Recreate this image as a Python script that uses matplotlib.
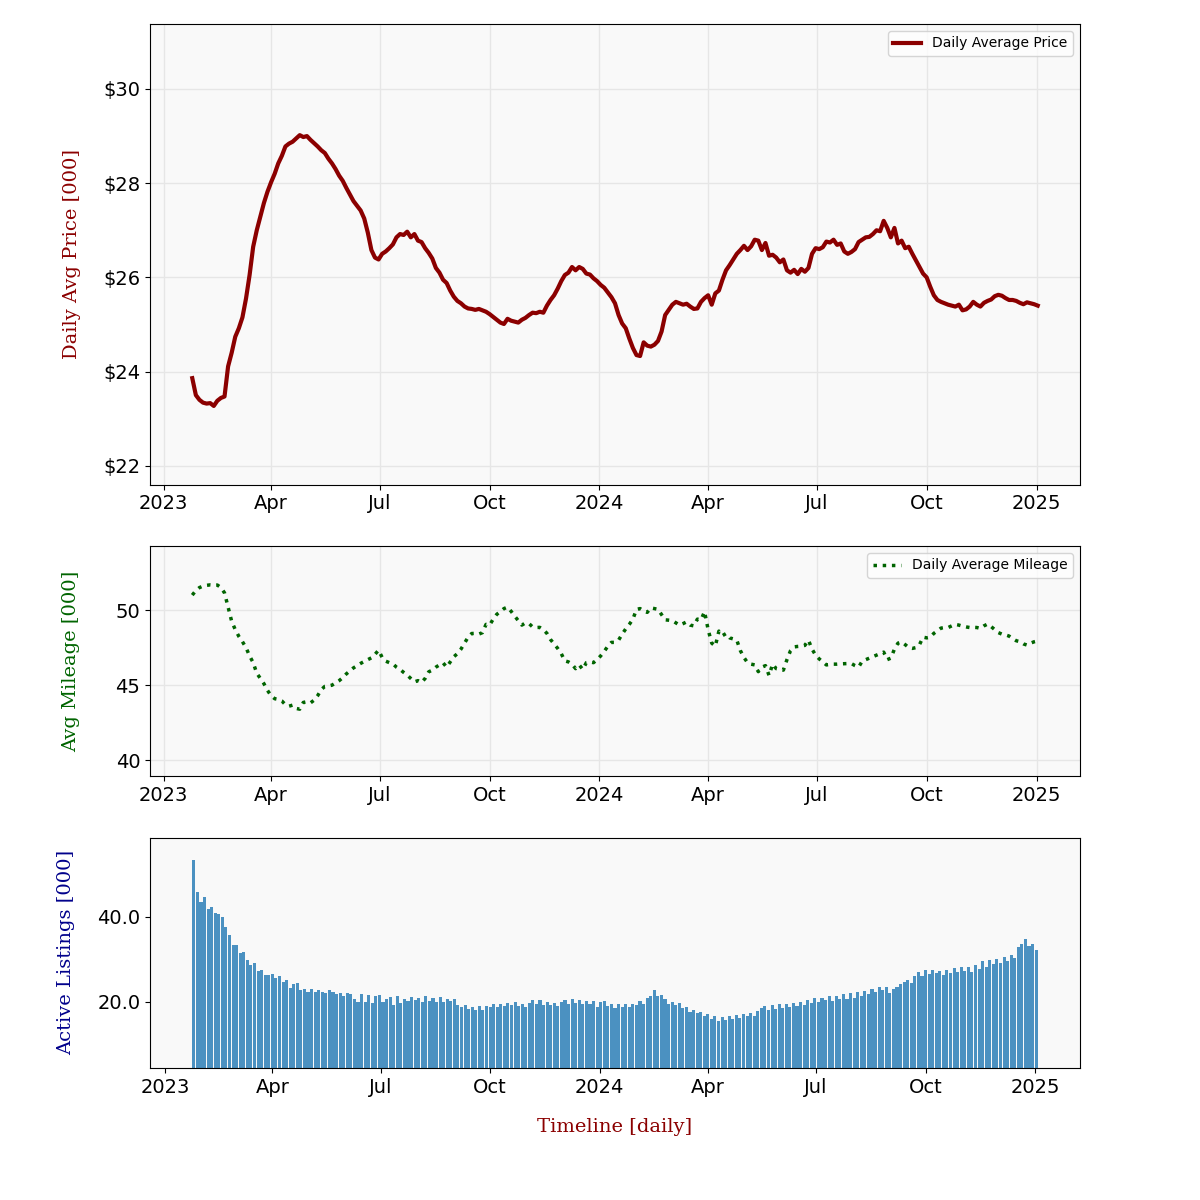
import numpy as np
import pandas as pd
import matplotlib
matplotlib.use("Agg")
import matplotlib.pyplot as plt
import matplotlib.dates as mdates
from matplotlib.ticker import MultipleLocator, FuncFormatter

# values, one point every 3 days from 2023-01-25
start_date = "2023-01-25"

price_k = [
    23.86, 23.50, 23.40, 23.34, 23.32, 23.33, 23.27, 23.38, 23.44, 23.47,
    24.11, 24.40, 24.74, 24.92, 25.15, 25.55, 26.05, 26.65, 27.00, 27.29,
    27.58, 27.82, 28.02, 28.20, 28.42, 28.58, 28.78, 28.84, 28.88, 28.95,
    29.02, 28.98, 29.00, 28.92, 28.85, 28.78, 28.70, 28.64, 28.52, 28.42,
    28.30, 28.16, 28.05, 27.90, 27.76, 27.62, 27.52, 27.42, 27.25, 26.95,
    26.58, 26.42, 26.38, 26.50, 26.55, 26.62, 26.70, 26.85, 26.92, 26.90,
    26.97, 26.85, 26.92, 26.78, 26.75, 26.62, 26.52, 26.40, 26.20, 26.10,
    25.95, 25.88, 25.72, 25.59, 25.50, 25.45, 25.38, 25.34, 25.33, 25.31,
    25.33, 25.30, 25.27, 25.22, 25.16, 25.10, 25.04, 25.01, 25.12, 25.08,
    25.06, 25.04, 25.10, 25.14, 25.20, 25.25, 25.24, 25.27, 25.25, 25.40,
    25.52, 25.62, 25.76, 25.92, 26.05, 26.10, 26.22, 26.15, 26.22, 26.18,
    26.08, 26.06, 25.98, 25.92, 25.84, 25.78, 25.68, 25.58, 25.45, 25.20,
    25.02, 24.92, 24.70, 24.50, 24.35, 24.33, 24.62, 24.55, 24.53, 24.57,
    24.65, 24.85, 25.20, 25.31, 25.42, 25.48, 25.45, 25.42, 25.44, 25.38,
    25.33, 25.34, 25.48, 25.56, 25.62, 25.42, 25.66, 25.72, 25.95, 26.15,
    26.26, 26.38, 26.50, 26.58, 26.67, 26.58, 26.66, 26.80, 26.78, 26.58,
    26.73, 26.46, 26.48, 26.42, 26.32, 26.38, 26.15, 26.10, 26.16, 26.07,
    26.18, 26.12, 26.20, 26.50, 26.62, 26.60, 26.64, 26.76, 26.74, 26.80,
    26.69, 26.72, 26.55, 26.50, 26.54, 26.60, 26.75, 26.80, 26.85, 26.86,
    26.92, 27.00, 26.98, 27.20, 27.05, 26.85, 27.05, 26.72, 26.78, 26.62,
    26.65, 26.50, 26.36, 26.22, 26.08, 26.00, 25.80, 25.62, 25.52, 25.48,
    25.45, 25.42, 25.40, 25.38, 25.42, 25.30, 25.32, 25.38, 25.48, 25.42,
    25.38, 25.46, 25.50, 25.53, 25.60, 25.63, 25.61, 25.56, 25.52, 25.52,
    25.50, 25.46, 25.43, 25.47, 25.45, 25.43, 25.40,
]

mileage_k = [
    51.00, 51.30, 51.50, 51.60, 51.65, 51.68, 51.66, 51.67, 51.50, 51.15,
    50.20, 49.25, 48.70, 48.25, 47.90, 47.50, 46.95, 46.50, 45.80, 45.45,
    45.10, 44.65, 44.30, 44.10, 44.05, 43.95, 43.70, 43.60, 43.67, 43.45,
    43.40, 43.85, 43.90, 43.82, 44.00, 44.30, 44.70, 44.92, 44.95, 45.00,
    45.15, 45.30, 45.50, 45.75, 45.95, 46.15, 46.30, 46.45, 46.58, 46.70,
    46.82, 47.05, 47.33, 46.85, 46.60, 46.50, 46.42, 46.20, 46.05, 45.85,
    45.67, 45.45, 45.22, 45.30, 45.18, 45.45, 45.89, 46.00, 46.20, 46.35,
    46.49, 46.20, 46.55, 46.89, 47.10, 47.40, 47.80, 48.20, 48.44, 48.45,
    48.40, 48.50, 49.05, 49.00, 49.40, 49.72, 49.90, 50.10, 50.20, 49.92,
    49.60, 49.30, 49.00, 49.15, 49.10, 48.88, 48.84, 48.85, 48.70, 48.45,
    48.04, 47.75, 47.45, 47.10, 46.62, 46.55, 46.40, 46.10, 46.35, 46.05,
    46.50, 46.55, 46.50, 46.70, 46.95, 47.25, 47.60, 47.85, 47.85, 48.00,
    48.40, 48.75, 49.05, 49.40, 50.05, 50.10, 49.95, 49.85, 50.15, 50.10,
    50.05, 49.70, 49.35, 49.33, 49.30, 49.15, 49.00, 49.10, 49.22, 49.00,
    48.95, 49.40, 49.35, 49.90, 48.70, 47.80, 47.60, 48.60, 48.30, 48.44,
    48.15, 48.08, 48.00, 47.30, 46.84, 46.50, 46.40, 46.35, 45.90, 46.20,
    46.30, 45.65, 46.40, 46.10, 46.05, 46.00, 46.70, 47.30, 47.55, 47.58,
    47.60, 47.65, 48.00, 47.40, 47.00, 46.75, 46.55, 46.35, 46.38, 46.40,
    46.40, 46.42, 46.43, 46.44, 46.44, 46.30, 46.20, 46.60, 46.70, 46.80,
    46.90, 47.00, 47.10, 47.20, 46.70, 46.80, 47.40, 47.80, 47.88, 47.70,
    47.50, 47.45, 47.50, 47.70, 48.20, 48.15, 48.20, 48.45, 48.62, 48.80,
    48.84, 48.84, 48.95, 49.05, 49.00, 48.93, 48.88, 48.84, 48.85, 48.84,
    48.78, 48.95, 49.07, 48.90, 48.70, 48.50, 48.40, 48.35, 48.27, 48.10,
    47.96, 47.90, 47.75, 47.67, 47.80, 47.89, 47.95,
]

listings_k = [
    53.4, 45.8, 43.5, 44.6, 41.9, 42.2, 40.9, 40.7, 39.9, 37.6,
    35.8, 33.4, 33.4, 31.5, 31.8, 29.8, 28.7, 29.2, 27.3, 27.5,
    26.4, 26.4, 26.5, 25.7, 26.1, 24.8, 25.2, 23.2, 24.2, 24.4,
    22.7, 23.0, 22.4, 23.0, 22.4, 22.7, 22.4, 22.2, 22.7, 22.4,
    21.9, 22.2, 21.3, 22.0, 21.9, 20.6, 20.1, 21.9, 20.1, 21.6,
    19.7, 21.3, 21.6, 20.1, 20.6, 21.1, 19.3, 21.3, 19.7, 20.8,
    20.2, 21.2, 20.4, 20.9, 20.0, 21.4, 20.3, 21.0, 20.1, 21.2,
    20.0, 20.8, 20.2, 20.6, 19.2, 18.8, 19.3, 18.4, 18.9, 18.0,
    19.0, 18.2, 19.1, 18.8, 19.4, 18.9, 19.6, 19.0, 19.8, 19.2,
    19.9, 19.0, 19.6, 18.8, 19.8, 20.5, 19.6, 20.4, 19.3, 20.0,
    19.2, 19.8, 19.0, 19.9, 20.4, 19.5, 20.6, 19.8, 20.5, 19.4,
    20.2, 19.6, 20.3, 18.9, 19.9, 20.3, 19.1, 19.6, 18.6, 19.4,
    18.8, 19.5, 18.7, 19.6, 19.3, 20.2, 19.4, 21.0, 21.5, 22.8,
    21.3, 21.6, 20.6, 19.5, 20.1, 19.3, 19.8, 18.6, 18.9, 17.6,
    18.2, 17.3, 17.6, 16.6, 17.1, 16.0, 16.8, 15.6, 16.5, 15.8,
    16.7, 16.0, 16.9, 16.2, 17.2, 16.6, 17.3, 16.8, 17.9, 18.6,
    19.0, 18.0, 19.3, 18.4, 19.5, 18.6, 19.6, 18.8, 19.8, 19.0,
    20.0, 19.3, 20.4, 19.8, 20.9, 20.0, 21.0, 20.4, 21.3, 20.3,
    21.5, 20.6, 21.9, 20.8, 22.0, 21.0, 22.3, 21.4, 22.6, 21.8,
    23.0, 22.4, 23.6, 22.8, 23.4, 22.2, 23.0, 23.5, 24.2, 24.8,
    25.2, 24.4, 26.0, 27.0, 26.2, 27.4, 26.5, 27.6, 26.8, 27.2,
    26.4, 27.5, 26.9, 27.9, 27.0, 28.3, 27.3, 28.2, 27.0, 28.6,
    27.8, 29.6, 28.1, 29.8, 28.9, 30.2, 29.2, 30.6, 29.6, 31.0,
    30.4, 32.8, 33.6, 34.8, 33.2, 33.5, 32.2,
]

dates = pd.date_range(start_date, periods=len(price_k), freq="3D")

df = pd.DataFrame({"price": price_k, "mileage": mileage_k,
                   "listings": listings_k}, index=dates)

label_font = {"family": "serif", "size": 14}
bg = "#f9f9f9"

fig = plt.figure(figsize=(12, 12), dpi=100)
gs = fig.add_gridspec(3, 1, height_ratios=[2, 1, 1], left=0.125, right=0.9,
                      top=0.98, bottom=0.11, hspace=0.2)
ax1 = fig.add_subplot(gs[0])
ax2 = fig.add_subplot(gs[1])
ax3 = fig.add_subplot(gs[2])

# price
ax1.plot(df.index, df["price"], color="darkred", lw=3, label="Daily Average Price")
ax1.set_ylim(21.6, 31.38)
ax1.yaxis.set_major_locator(MultipleLocator(2))
ax1.yaxis.set_major_formatter(FuncFormatter(lambda v, p: f"${v:.0f}"))
ax1.set_ylabel("Daily Avg Price [000]", color="darkred", fontdict=label_font)
ax1.legend(loc="upper right", fontsize=10)

# mileage
ax2.plot(df.index, df["mileage"], color="darkgreen", lw=2.5, ls=":",
         label="Daily Average Mileage")
ax2.set_ylim(38.93, 54.27)
ax2.yaxis.set_major_locator(MultipleLocator(5))
ax2.set_ylabel("Avg Mileage [000]", color="darkgreen", fontdict=label_font)
ax2.legend(loc="upper right", fontsize=10)

# listings
ax3.bar(df.index, df["listings"], width=2.6, color="#1f77b4", alpha=0.8)
ax3.set_ylim(4.47, 58.6)
ax3.yaxis.set_major_locator(MultipleLocator(20))
ax3.yaxis.set_major_formatter(FuncFormatter(lambda v, p: f"{v:.1f}"))
ax3.set_ylabel("Active Listings [000]", color="darkblue", fontdict=label_font)
ax3.set_xlabel("Timeline [daily]", color="darkred", fontdict=label_font, labelpad=15)

for ax in (ax1, ax2, ax3):
    ax.set_facecolor(bg)
    loc = mdates.MonthLocator(bymonth=[1, 4, 7, 10])
    ax.xaxis.set_major_locator(loc)
    ax.xaxis.set_major_formatter(mdates.ConciseDateFormatter(loc))
    ax.tick_params(labelsize=14)
    ax.margins(x=0.05)

for ax in (ax1, ax2):
    ax.grid(True, color="#e6e6e6", lw=1)
    ax.set_axisbelow(True)

ax1.yaxis.set_label_coords(-0.074, 0.5)
ax2.yaxis.set_label_coords(-0.075, 0.5)
ax3.yaxis.set_label_coords(-0.081, 0.5)

fig.savefig("out.png", dpi=100)
